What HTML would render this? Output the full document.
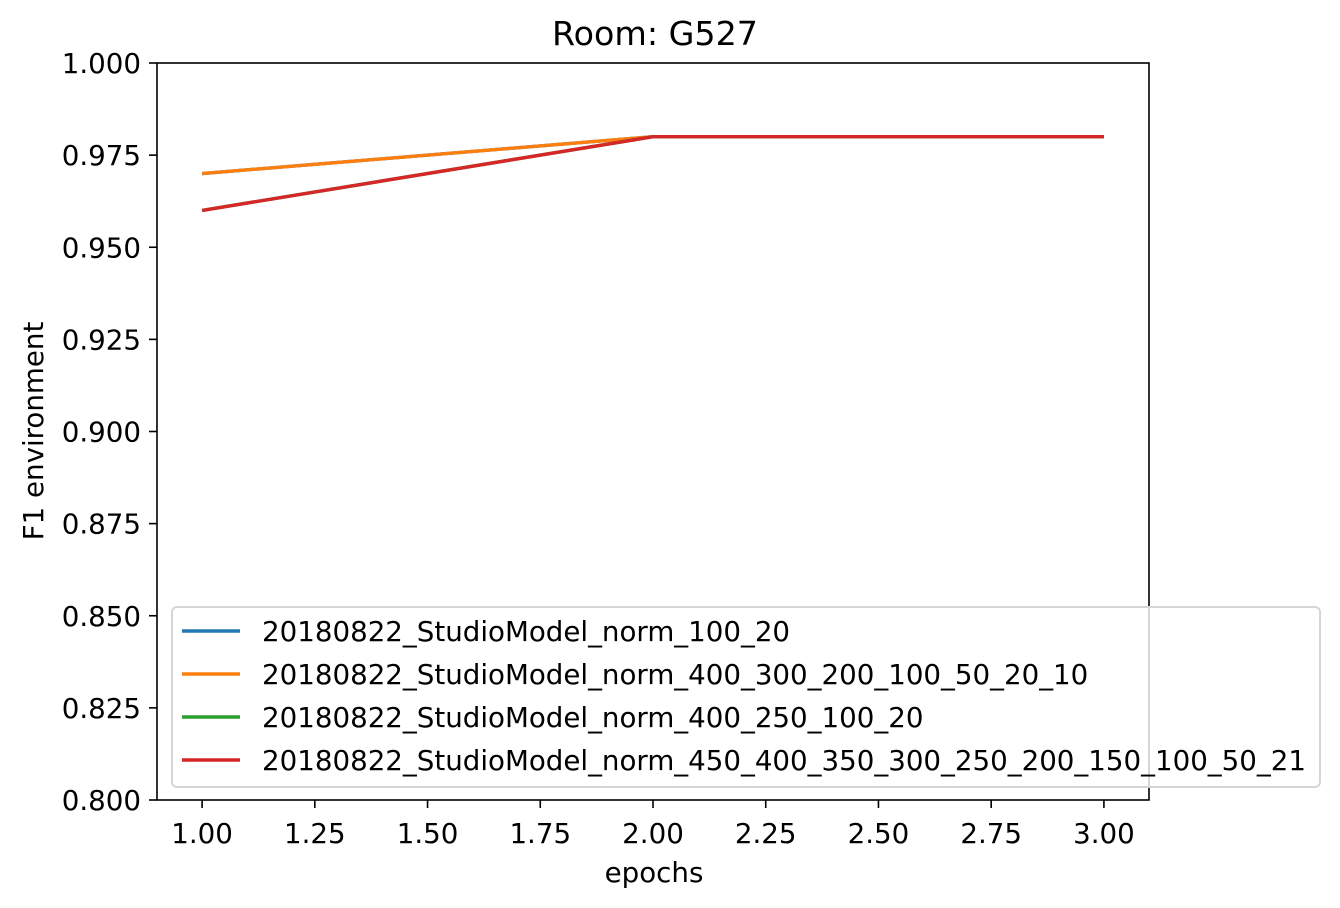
<!DOCTYPE html>
<html><head><meta charset="utf-8"><style>
html,body{margin:0;padding:0;background:#fff;}
svg{display:block;font-family:"DejaVu Sans","Liberation Sans",sans-serif;}
</style></head><body>
<svg id="chart" width="1340" height="908" viewBox="0 0 1340 908">
<text x="655" y="45" font-size="33.3" text-anchor="middle">Room: G527</text>
<g id="plot"></g>
<rect x="157" y="63" width="992" height="737" fill="none" stroke="#000" stroke-width="1.6"/>
<text x="654" y="882" font-size="27.7" text-anchor="middle">epochs</text>
<text transform="translate(43,431) rotate(-90)" font-size="27.7" text-anchor="middle">F1 environment</text>
<g id="legend"></g>
</svg>
<script>
const epochs=[1,2,3];
const seriesNames=["20180822_StudioModel_norm_100_20","20180822_StudioModel_norm_400_300_200_100_50_20_10","20180822_StudioModel_norm_400_250_100_20","20180822_StudioModel_norm_450_400_350_300_250_200_150_100_50_21"];
const s1=[0.97,0.98,0.98];
const s2=[0.97,0.98,0.98];
const s3=[0.96,0.98,0.98];
const s4=[0.96,0.98,0.98];
const xTicks=[1.0,1.25,1.5,1.75,2.0,2.25,2.5,2.75,3.0];
const yTicks=[0.8,0.825,0.85,0.875,0.9,0.925,0.95,0.975,1.0];
const colors=["#1f77b4","#ff7f0e","#2ca02c","#d62728"];
const allSeries=[s1,s2,s3,s4];
const NS="http://www.w3.org/2000/svg";
const xs=v=>157+(v-0.9)/(3.1-0.9)*992;
const ys=v=>800-(v-0.8)/(0.2)*737;
const plot=document.getElementById('plot');
function mk(tag,attrs,parent){const e=document.createElementNS(NS,tag);for(const k in attrs)e.setAttribute(k,attrs[k]);parent.appendChild(e);return e;}
xTicks.forEach(t=>{const x=xs(t);
const l=mk('line',{x1:x,x2:x,y1:800,y2:808,stroke:'#000','stroke-width':1.6},plot);


const tx=mk('text',{x:x,y:843,'font-size':27.7,'text-anchor':'middle'},plot);tx.textContent=t.toFixed(2);

});
yTicks.forEach(t=>{const y=ys(t);
const l=mk('line',{x1:149,x2:157,y1:y,y2:y,stroke:'#000','stroke-width':1.6},plot);


const tx=mk('text',{x:141,y:y+10,'font-size':27.7,'text-anchor':'end'},plot);tx.textContent=t.toFixed(3);

});
allSeries.forEach((s,i)=>{const p=mk('polyline',{points:s.map((v,j)=>xs(epochs[j])+','+ys(v)).join(' '),fill:'none',stroke:colors[i],'stroke-width':3.4},plot);

});
const lg=document.getElementById('legend');
const box=mk('rect',{x:172,y:607,width:1148,height:180,rx:5,fill:'#fff','fill-opacity':0.8,stroke:'#d5d5d5','stroke-width':2},lg);


seriesNames.forEach((n,i)=>{const y=631+i*43;
const l=mk('line',{x1:182,x2:240,y1:y,y2:y,stroke:colors[i],'stroke-width':3.4},lg);


const t=mk('text',{x:262,y:y+10,'font-size':27.7},lg);t.textContent=n;

});
</script>
</body></html>
